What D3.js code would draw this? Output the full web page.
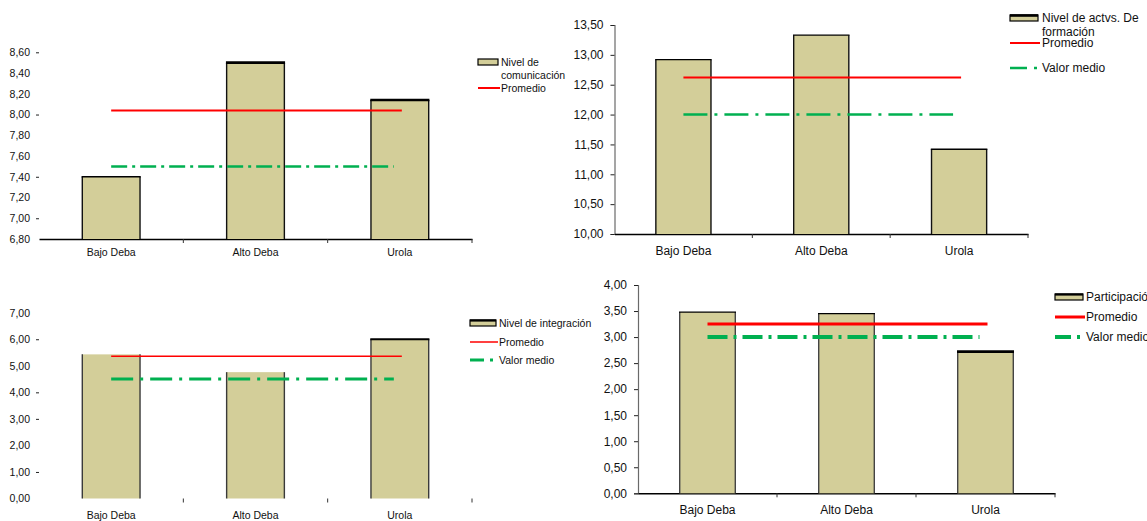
<!DOCTYPE html>
<html>
<head>
<meta charset="utf-8">
<script src="https://cdn.jsdelivr.net/npm/d3@7"></script>
<style>
  html, body { margin: 0; padding: 0; background: #fff; }
  svg { display: block; font-family: "Liberation Sans", Arial, sans-serif; }
</style>
</head>
<body>
<svg id="chart" width="1147" height="521"></svg>
<script>
// Comarcas compared in every panel
const categories = ["Bajo Deba", "Alto Deba", "Urola"];

// Nivel de comunicación
const comunicacion = [7.40, 8.50, 8.14];
const comunicacionPromedio = 8.04;
const comunicacionValorMedio = 7.50;
const comunicacionTicks = [6.80, 7.00, 7.20, 7.40, 7.60, 7.80, 8.00, 8.20, 8.40, 8.60];

// Nivel de actividades de formación
const formacion = [12.92, 13.33, 11.42];
const formacionPromedio = 12.62;
const formacionValorMedio = 12.00;
const formacionTicks = [10.00, 10.50, 11.00, 11.50, 12.00, 12.50, 13.00, 13.50];

// Nivel de integración
const integracion = [5.43, 4.76, 6.00];
const integracionPromedio = 5.36;
const integracionValorMedio = 4.50;
const integracionTicks = [0, 1, 2, 3, 4, 5, 6, 7];

// Participación
const participacion = [3.48, 3.45, 2.72];
const participacionPromedio = 3.25;
const participacionValorMedio = 3.00;
const participacionTicks = [0, 0.5, 1.0, 1.5, 2.0, 2.5, 3.0, 3.5, 4.0];

const BAR_FILL = "#d3ce99";
const RED = "#ff0000";
const GREEN = "#00b050";

const esLocale = d3.formatLocale({ decimal: ",", thousands: ".", grouping: [3], currency: ["", " €"] });
const fmt = esLocale.format(".2f");

const svg = d3.select("#chart");

function drawPanel(cfg) {
  const g = svg.append("g");
  const x = d3.scaleBand().domain(categories).range(cfg.xRange).paddingInner(0.6).paddingOuter(0.3);
  const y = d3.scaleLinear().domain(cfg.yDomain).range(cfg.yRange);
  const [y0] = cfg.yRange;

  // value axis
  const yAxis = d3.axisLeft(y).tickValues(cfg.ticks).tickFormat(fmt).tickSize(cfg.yTickSize).tickPadding(cfg.yTickPad);
  const ya = g.append("g").attr("transform", `translate(${cfg.xRange[0]},0)`).call(yAxis);
  ya.select(".domain").attr("stroke", cfg.yLine ? "#6a6a6a" : "none").attr("stroke-width", 1.2);
  ya.selectAll(".tick line")
    .attr("stroke", "#222")
    .attr("stroke-width", 1)
    .attr("opacity", d => (cfg.tickMarks ? (cfg.tickMarks.includes(d) ? 1 : 0) : 1));
  ya.selectAll(".tick text").attr("font-size", cfg.fontSize).attr("fill", "#111")
    .attr("font-family", "Liberation Sans, Arial, sans-serif");

  // category axis
  const xAxis = d3.axisBottom(x).tickSize(0).tickPadding(cfg.xLabelPad);
  const xa = g.append("g").attr("transform", `translate(0,${y0})`).call(xAxis);
  xa.select(".domain").attr("stroke", cfg.xLine ? "#000" : "none").attr("stroke-width", 1.5);
  xa.selectAll(".tick text").attr("font-size", cfg.fontSize).attr("fill", "#111")
    .attr("font-family", "Liberation Sans, Arial, sans-serif");
  // separators between categories
  const seps = categories.slice(1).map(c => x(c) - x.step() * x.paddingInner() / 2).concat([cfg.xRange[1]]);
  g.selectAll(".sep").data(seps).join("line")
    .attr("x1", d => d).attr("x2", d => d)
    .attr("y1", y0).attr("y2", y0 + 4)
    .attr("stroke", "#333").attr("stroke-width", 1);

  // bars: fill, then side edges, then top edge
  const bars = g.selectAll(".bar").data(cfg.values).join("g");
  bars.append("rect")
    .attr("x", (d, i) => x(categories[i]))
    .attr("y", d => y(d))
    .attr("width", x.bandwidth())
    .attr("height", d => y0 - y(d))
    .attr("fill", BAR_FILL);
  bars.each(function (d, i) {
    const b = d3.select(this);
    const xl = x(categories[i]), xr = xl + x.bandwidth();
    [xl, xr].forEach(xx => b.append("line")
      .attr("x1", xx).attr("x2", xx).attr("y1", y(d)).attr("y2", y0)
      .attr("stroke", cfg.barStroke).attr("stroke-width", 1.4));
    if (cfg.topWidths[i] > 0) {
      b.append("line")
        .attr("x1", xl - 0.7).attr("x2", xr + 0.7).attr("y1", y(d)).attr("y2", y(d))
        .attr("stroke", "#000").attr("stroke-width", cfg.topWidths[i]);
    }
  });

  // reference lines
  const xs = x(categories[0]) + x.bandwidth() / 2;
  const xe = x(categories[categories.length - 1]) + x.bandwidth() / 2 + 2;
  g.append("line")
    .attr("x1", xs).attr("x2", xe - 8)
    .attr("y1", y(cfg.valorMedio)).attr("y2", y(cfg.valorMedio))
    .attr("stroke", GREEN).attr("stroke-width", cfg.greenWidth)
    .attr("stroke-dasharray", cfg.dash);
  g.append("line")
    .attr("x1", xs).attr("x2", xe)
    .attr("y1", y(cfg.promedio)).attr("y2", y(cfg.promedio))
    .attr("stroke", RED).attr("stroke-width", cfg.redWidth);

  // legend
  const L = cfg.legend;
  const lg = g.append("g").attr("font-size", cfg.legendFont).attr("fill", "#111");
  lg.append("rect")
    .attr("x", L.x).attr("y", L.barY - 3).attr("width", L.w).attr("height", 6)
    .attr("fill", BAR_FILL).attr("stroke", "#000").attr("stroke-width", 1.2);
  lg.append("line")
    .attr("x1", L.x).attr("x2", L.x + L.w).attr("y1", L.barY - 2.5).attr("y2", L.barY - 2.5)
    .attr("stroke", "#000").attr("stroke-width", L.topW);
  L.barText.forEach((t, i) => {
    lg.append("text").attr("x", L.tx).attr("y", L.barY + i * L.lineGap)
      .attr("dominant-baseline", "central").text(t);
  });
  lg.append("line")
    .attr("x1", L.x).attr("x2", L.x + L.w + 2).attr("y1", L.redY).attr("y2", L.redY)
    .attr("stroke", RED).attr("stroke-width", cfg.redWidth);
  lg.append("text").attr("x", L.tx).attr("y", L.redY).attr("dominant-baseline", "central").text("Promedio");
  if (L.greenY != null) {
    lg.append("line")
      .attr("x1", L.x).attr("x2", L.x + L.w).attr("y1", L.greenY).attr("y2", L.greenY)
      .attr("stroke", GREEN).attr("stroke-width", cfg.greenWidth)
      .attr("stroke-dasharray", cfg.legendDash);
    lg.append("text").attr("x", L.tx).attr("y", L.greenY).attr("dominant-baseline", "central").text("Valor medio");
  }
}

// top left: comunicación
drawPanel({
  values: comunicacion, promedio: comunicacionPromedio, valorMedio: comunicacionValorMedio,
  ticks: comunicacionTicks, tickMarks: [8.60, 8.00, 7.40, 7.00],
  xRange: [39, 472], yDomain: [6.8, 8.6], yRange: [239, 52.3],
  yLine: false, xLine: true, yTickSize: 3, yTickPad: 6, xLabelPad: 10,
  fontSize: 10.5, legendFont: 10.5,
  barStroke: "#111", topWidths: [1.4, 2.6, 2.6],
  redWidth: 2, greenWidth: 2.5, dash: "16,5,3,5", legendDash: "14,5,3,5",
  legend: { x: 478, w: 20, tx: 501, barY: 62, lineGap: 12.5, topW: 0, barText: ["Nivel de", "comunicación"], redY: 88, greenY: null }
});

// top right: actividades de formación
drawPanel({
  values: formacion, promedio: formacionPromedio, valorMedio: formacionValorMedio,
  ticks: formacionTicks, tickMarks: null,
  xRange: [614.5, 1028], yDomain: [10, 13.5], yRange: [234, 25],
  yLine: true, xLine: true, yTickSize: 4, yTickPad: 7, xLabelPad: 12,
  fontSize: 12, legendFont: 12,
  barStroke: "#111", topWidths: [1.4, 1.4, 1.4],
  redWidth: 2, greenWidth: 2.5, dash: "24,7,3,7", legendDash: "17,7,3,7",
  legend: { x: 1010, w: 28, tx: 1042, barY: 18, lineGap: 14, topW: 2.6, barText: ["Nivel de actvs. De", "formación"], redY: 43, greenY: 68 }
});

// bottom left: integración
drawPanel({
  values: integracion, promedio: integracionPromedio, valorMedio: integracionValorMedio,
  ticks: integracionTicks, tickMarks: [6, 4, 3, 1],
  xRange: [39, 472], yDomain: [0, 7], yRange: [498.5, 312.7],
  yLine: false, xLine: false, yTickSize: 3, yTickPad: 6, xLabelPad: 13,
  fontSize: 10.5, legendFont: 10.5,
  barStroke: "#3a3a3a", topWidths: [0, 0, 2],
  redWidth: 1.5, greenWidth: 3, dash: "22,7,3,7", legendDash: "14,6,3,6",
  legend: { x: 470, w: 26, tx: 499, barY: 323, lineGap: 12.5, topW: 2.2, barText: ["Nivel de integración"], redY: 342, greenY: 360 }
});

// bottom right: participación
drawPanel({
  values: participacion, promedio: participacionPromedio, valorMedio: participacionValorMedio,
  ticks: participacionTicks, tickMarks: null,
  xRange: [638, 1055], yDomain: [0, 4], yRange: [493.3, 285],
  yLine: true, xLine: true, yTickSize: 4, yTickPad: 7, xLabelPad: 12,
  fontSize: 12, legendFont: 12,
  barStroke: "#444", topWidths: [1.4, 1.4, 2.6],
  redWidth: 3, greenWidth: 4, dash: "20,6,3,6", legendDash: "16,6,3,6",
  legend: { x: 1055, w: 28, tx: 1086, barY: 297, lineGap: 14, topW: 2.2, barText: ["Participación"], redY: 317, greenY: 337 }
});
</script>
</body>
</html>
